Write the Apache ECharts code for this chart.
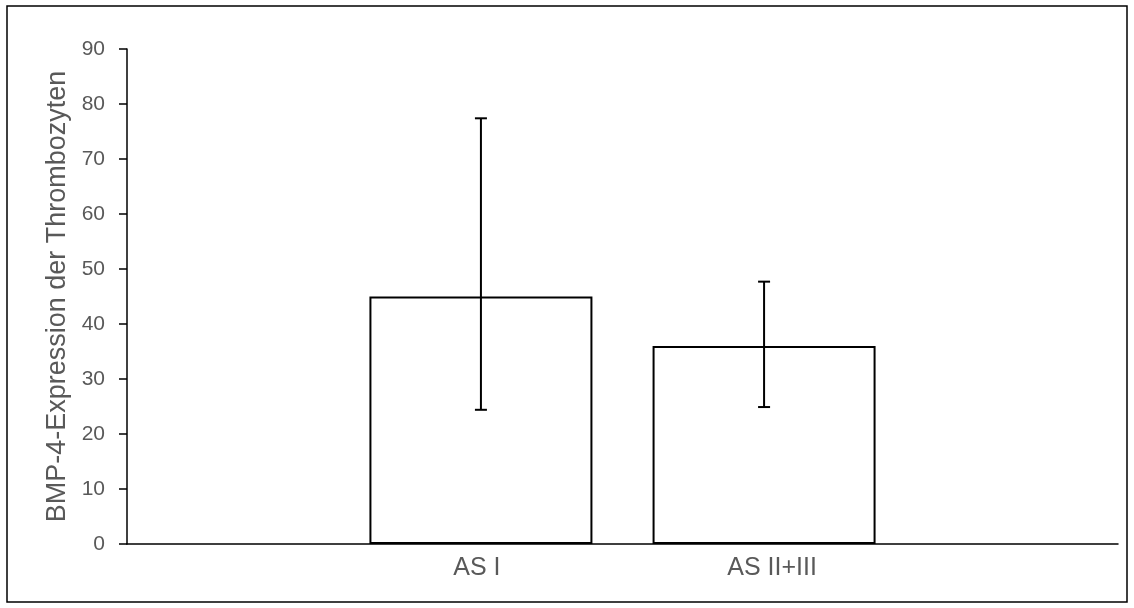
<!DOCTYPE html>
<html>
<head>
<meta charset="utf-8">
<script src="https://cdn.jsdelivr.net/npm/echarts@6/dist/echarts.min.js"></script>
<style>
html,body{margin:0;padding:0;background:#fff;}
#chart{width:1134px;height:608px;}
</style>
</head>
<body>
<div id="chart"></div>
<script>
// Category slots along the x axis (empty slots keep the spacing of the original)
const categories = ['', '', 'AS I', '', 'AS II+III', '', ''];
// Values per slot (null = no bar)
const meanValues = [null, null, 45, null, 36, null, null];
const errLow     = [null, null, 24.4, null, 24.9, null, null];
const errHigh    = [null, null, 77.4, null, 47.7, null, null];
const yTicks = [0, 10, 20, 30, 40, 50, 60, 70, 80, 90];
const yTitle = 'BMP-4-Expression der Thrombozyten';

const chart = echarts.init(document.getElementById('chart'));
const font = "'Liberation Sans', Arial, sans-serif";

const errData = [];
categories.forEach((c, i) => {
  if (errLow[i] != null) errData.push([i, errLow[i], errHigh[i]]);
});

const catData = categories.map((c, i) => {
  if (c === 'AS I') return {value: c, textStyle: {padding: [0, 8, 0, 0]}};
  if (c === 'AS II+III') return {value: c, textStyle: {padding: [0, 0, 0, 16]}};
  return c;
});

chart.setOption({
  animation: false,
  backgroundColor: '#fff',
  graphic: [{
    type: 'rect',
    shape: {x: 7, y: 6, width: 1120, height: 596},
    style: {fill: 'none', stroke: '#000', lineWidth: 1.5},
    silent: true,
    z: 100
  }],
  grid: {left: 127, right: 16, top: 49, bottom: 64, containLabel: false},
  xAxis: {
    type: 'category',
    data: catData,
    boundaryGap: true,
    axisLine: {show: true, lineStyle: {color: '#000', width: 1.5}},
    axisTick: {show: false},
    axisLabel: {interval: 0, color: '#595959', fontSize: 25, fontFamily: font, margin: 12},
    splitLine: {show: false}
  },
  yAxis: {
    type: 'value',
    min: yTicks[0],
    max: yTicks[yTicks.length - 1],
    interval: 10,
    name: yTitle,
    nameLocation: 'middle',
    nameGap: 52,
    nameTextStyle: {color: '#595959', fontSize: 27, fontFamily: font},
    axisLine: {show: true, lineStyle: {color: '#000', width: 1.5}},
    axisTick: {show: true, inside: false, length: 8, lineStyle: {color: '#000', width: 1.5}},
    axisLabel: {color: '#595959', fontSize: 21, fontFamily: font, margin: 22},
    splitLine: {show: false}
  },
  series: [
    {
      type: 'bar',
      data: meanValues,
      barWidth: 223,
      itemStyle: {color: '#fff', borderColor: '#000', borderWidth: 2},
      z: 2
    },
    {
      type: 'custom',
      data: errData,
      z: 5,
      renderItem: function (params, api) {
        const x = api.value(0);
        const lo = api.coord([x, api.value(1)]);
        const hi = api.coord([x, api.value(2)]);
        const cap = 6;
        const st = {stroke: '#000', lineWidth: 2, fill: 'none'};
        return {
          type: 'group',
          children: [
            {type: 'line', shape: {x1: hi[0], y1: hi[1], x2: lo[0], y2: lo[1]}, style: st},
            {type: 'line', shape: {x1: hi[0] - cap, y1: hi[1], x2: hi[0] + cap, y2: hi[1]}, style: st},
            {type: 'line', shape: {x1: lo[0] - cap, y1: lo[1], x2: lo[0] + cap, y2: lo[1]}, style: st}
          ]
        };
      }
    }
  ]
});
</script>
</body>
</html>
